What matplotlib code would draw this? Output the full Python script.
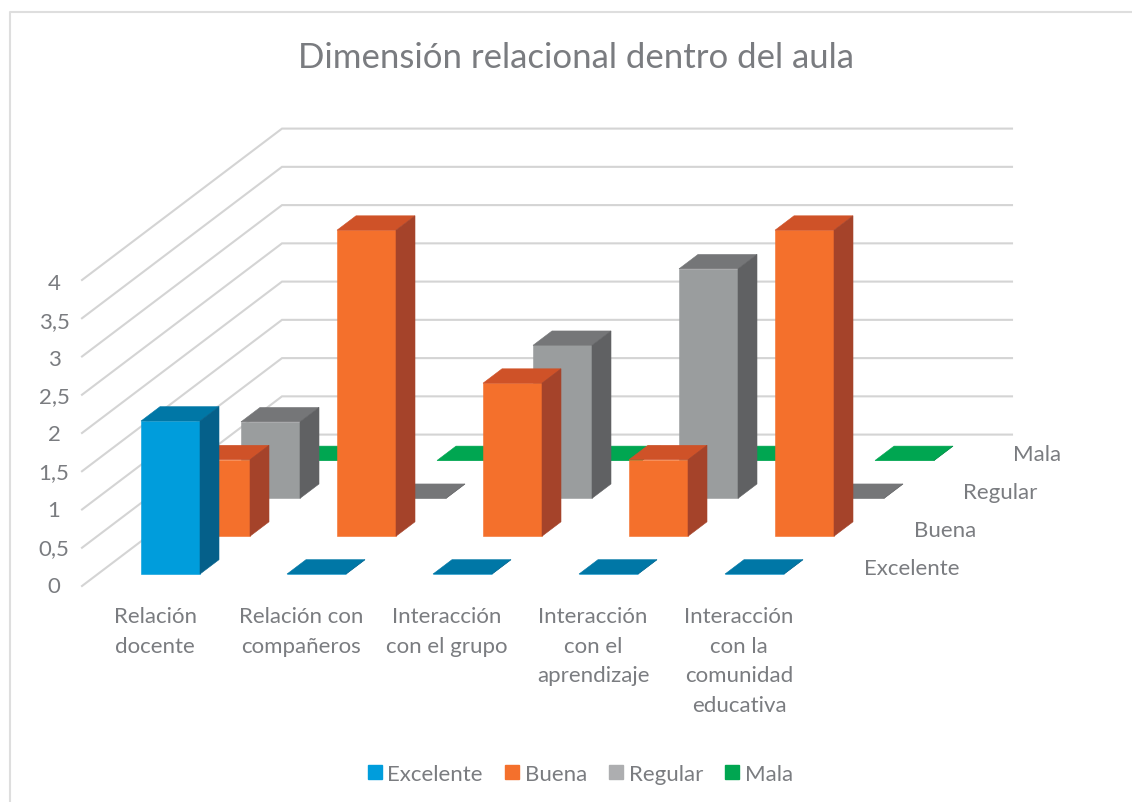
import matplotlib

matplotlib.use("Agg")
import matplotlib.pyplot as plt
from matplotlib.patches import Patch, Polygon

plt.rcParams["font.family"] = ["Lato", "DejaVu Sans"]

categories = [
    "Relación\ndocente",
    "Relación con\ncompañeros",
    "Interacción\ncon el grupo",
    "Interacción\ncon el\naprendizaje",
    "Interacción\ncon la\ncomunidad\neducativa",
]
series_names = ["Excelente", "Buena", "Regular", "Mala"]
excelente = [2, 0, 0, 0, 0]
buena = [1, 4, 2, 1, 4]
regular = [1, 0, 2, 3, 0]
mala = [0, 0, 0, 0, 0]
value_ticks = [0, 0.5, 1, 1.5, 2, 2.5, 3, 3.5, 4]

# front, top, side
shades = {
    "Excelente": ("#009DDC", "#0077A6", "#05608A"),
    "Buena": ("#F4702C", "#CF5228", "#A5432A"),
    "Regular": ("#9A9D9E", "#757678", "#606163"),
    "Mala": ("#00A651", "#00A651", "#008040"),
}
legend_colors = ["#009DDC", "#F4702C", "#ADAEB0", "#00A651"]
text_color = "#7A7C80"
grid_color = "#D4D4D4"

# oblique projection, in pixels of the figure
X0, Y0 = 82.0, 587.0
CAT_DX = 146.0
ROW_DX, ROW_DY = 50.0, 37.85
UNIT = 76.5
BAR_U0, BAR_U1 = 0.296, 0.70
BAR_V0, BAR_V1 = 0.316, 0.696


def proj(u, v, z=0.0):
    return X0 + CAT_DX * u + ROW_DX * v, Y0 - ROW_DY * v - UNIT * z


def draw_bar(ax, cat, row, value, colors, zorder):
    u0, u1 = cat + BAR_U0, cat + BAR_U1
    v0, v1 = row + BAR_V0, row + BAR_V1
    front, top, side = colors
    faces = [
        ([(u0, v0, 0), (u1, v0, 0), (u1, v0, value), (u0, v0, value)], front),
        ([(u0, v0, value), (u1, v0, value), (u1, v1, value), (u0, v1, value)], top),
        ([(u1, v0, 0), (u1, v1, 0), (u1, v1, value), (u1, v0, value)], side),
    ]
    for pts, color in faces:
        ax.add_patch(Polygon([proj(*p) for p in pts], closed=True, facecolor=color,
                             edgecolor=color, linewidth=0.4, zorder=zorder))


def main():
    fig = plt.figure(figsize=(11.32, 8.03), dpi=100)
    ax = fig.add_axes([0, 0, 1, 1])
    ax.set_xlim(0, 1132)
    ax.set_ylim(803, 0)
    ax.axis("off")

    # chart frame, cut off on the right and at the bottom
    ax.plot([9.5, 9.5, 1132], [803, 12.5, 12.5], color="#DEDEDE", linewidth=1.5, zorder=1)

    ax.text(576, 58, "Dimensión relacional dentro del aula", ha="center", va="center",
            fontsize=25, color=text_color)

    n_cat = len(categories)
    n_row = len(series_names)
    for z in value_ticks:
        xs, ys = zip(proj(0, 0, z), proj(0, n_row, z), proj(n_cat, n_row, z))
        ax.plot(xs, ys, color=grid_color, linewidth=1.5, zorder=2, solid_joinstyle="miter")
        label = f"{z:g}".replace(".", ",")
        ax.text(54, 587 - 75.8 * z, label, ha="center", va="center", fontsize=16, color=text_color)

    rows = [excelente, buena, regular, mala]
    for row in range(n_row - 1, -1, -1):
        for cat in range(n_cat):
            draw_bar(ax, cat, row, rows[row][cat], shades[series_names[row]], 3 + (n_row - row))

    for i, name in enumerate(categories):
        x_c = 155 + CAT_DX * i
        for j, line in enumerate(name.split("\n")):
            ax.text(x_c, 617 + 29.6 * j, line, ha="center", va="center", fontsize=16, color=text_color)

    for i, name in enumerate(series_names):
        ax.text(864 + 49.7 * i, 569 - 38 * i, name, ha="left", va="center", fontsize=16, color=text_color)

    handles = [Patch(facecolor=c, edgecolor=c, label=n) for c, n in zip(legend_colors, series_names)]
    ax.legend(handles=handles, loc="center", bbox_to_anchor=(580.5 / 1132, 1 - 775 / 803), ncols=4,
              frameon=False, fontsize=16, labelcolor=text_color, handlelength=0.63, handleheight=0.63,
              handletextpad=0.25, columnspacing=1.0)

    fig.savefig("out.png", dpi=100, facecolor="white")
    plt.close(fig)


if __name__ == "__main__":
    main()
